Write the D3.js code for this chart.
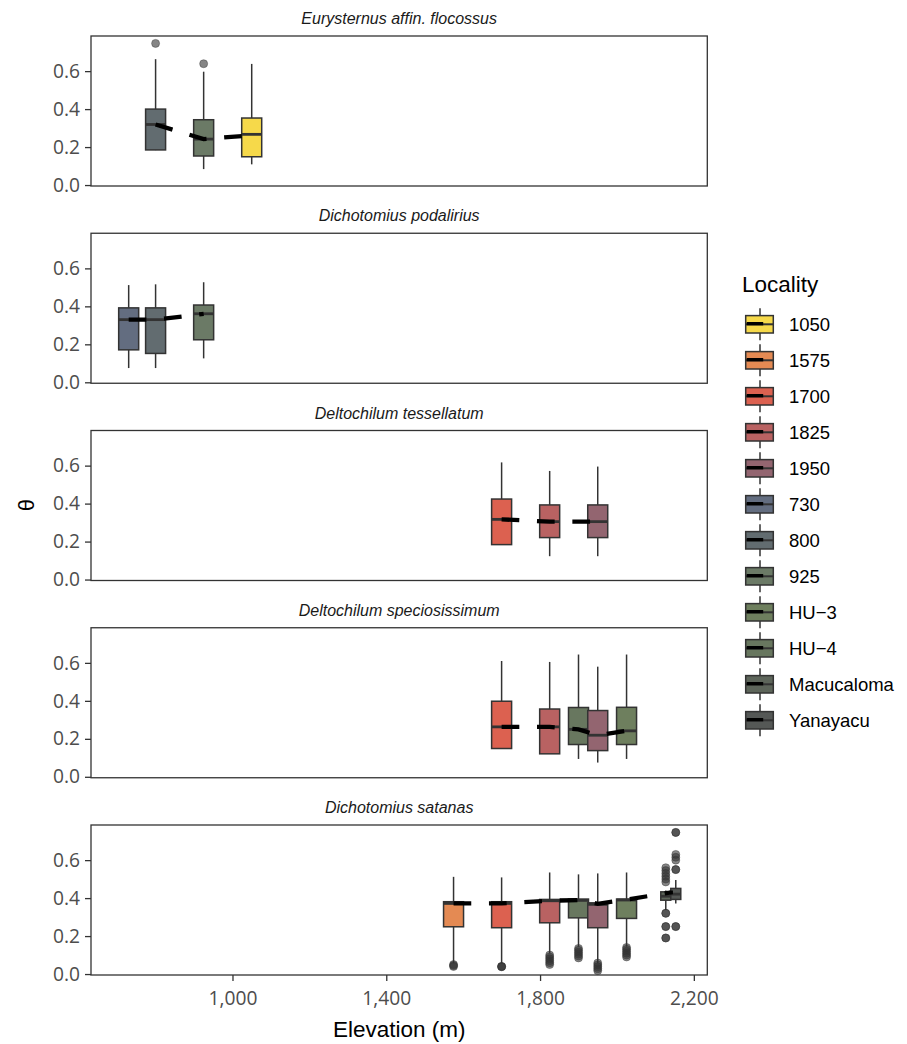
<!DOCTYPE html>
<html>
<head>
<meta charset="utf-8">
<script src="https://cdn.jsdelivr.net/npm/d3@7"></script>
<style>
  html, body { margin: 0; padding: 0; background: #ffffff; }
  svg { display: block; }
</style>
</head>
<body>
<svg id="chart" width="907" height="1044"></svg>
<script>
// ---------------- DATA ----------------
const speciesNames = [
  "Eurysternus affin. flocossus",
  "Dichotomius podalirius",
  "Deltochilum tessellatum",
  "Deltochilum speciosissimum",
  "Dichotomius satanas"
];
const localityLevels = ["1050","1575","1700","1825","1950","730","800","925","HU-3","HU-4","Macucaloma","Yanayacu"];
const localityElevation = [1050, 1575, 1700, 1825, 1950, 730, 800, 925, 2025, 1900, 2140, 2140];

// one entry per box
const boxSpecies  = [0,0,0, 1,1,1, 2,2,2, 3,3,3,3,3, 4,4,4,4,4,4,4,4];
const boxLocality = ["800","925","1050",
                     "730","800","925",
                     "1700","1825","1950",
                     "1700","1825","HU-4","1950","HU-3",
                     "1575","1700","1825","HU-4","1950","HU-3","Macucaloma","Yanayacu"];
const whiskerLow  = [0.184,0.084,0.109, 0.075,0.075,0.126, 0.182,0.123,0.123, 0.148,0.120,0.094,0.075,0.094, 0.056,0.056,0.109,0.144,0.056,0.144,0.337,0.372];
const quartile1   = [0.185,0.153,0.149, 0.171,0.152,0.224, 0.184,0.221,0.221, 0.149,0.121,0.170,0.138,0.170, 0.249,0.244,0.270,0.296,0.244,0.293,0.389,0.393];
const medianVal   = [0.319,0.242,0.267, 0.330,0.330,0.361, 0.317,0.305,0.305, 0.263,0.263,0.250,0.219,0.242, 0.372,0.372,0.386,0.388,0.367,0.390,0.410,0.421];
const quartile3   = [0.400,0.344,0.353, 0.392,0.392,0.407, 0.424,0.393,0.393, 0.398,0.357,0.365,0.349,0.366, 0.381,0.381,0.393,0.395,0.375,0.395,0.433,0.451];
const whiskerHigh = [0.663,0.597,0.638, 0.512,0.516,0.527, 0.617,0.572,0.595, 0.610,0.605,0.644,0.580,0.644, 0.512,0.509,0.535,0.525,0.530,0.535,0.440,0.495];
const trendValue  = [0.319,0.242,0.262, 0.330,0.330,0.360, 0.317,0.305,0.305, 0.263,0.263,0.250,0.219,0.242, 0.372,0.372,0.386,0.390,0.370,0.392,0.430,0.440];
const outlierVals = [
  [0.746],[0.639],[],
  [],[],[],
  [],[],[],
  [],[],[],[],[],
  [0.050,0.045,0.040],
  [0.040,0.040,0.038],
  [0.100,0.090,0.080,0.070,0.060,0.050],
  [0.135,0.125,0.115,0.105,0.095,0.085],
  [0.058,0.048,0.038,0.028,0.018],
  [0.140,0.130,0.120,0.110,0.100,0.090],
  [0.560,0.545,0.530,0.515,0.500,0.485,0.320,0.320,0.250,0.250,0.190,0.190],
  [0.746,0.746,0.630,0.615,0.600,0.550,0.550,0.250,0.250]
];
const yTickValues = [0.0, 0.2, 0.4, 0.6];
const xTickValues = [1000, 1400, 1800, 2200];

// ---------------- STYLE / LAYOUT ----------------
const palette = ["#f6d94a","#e48a53","#dc6150","#b96262","#936570","#636d80","#626c70","#6b7a66","#6e7f5e","#68775f","#5d655a","#555856"];
const fontSans = "'Liberation Sans', Arial, sans-serif";
const fontTick = "'Open Sans', 'Liberation Sans', sans-serif";
const panelLeft = 91, panelRight = 707.3, panelTop0 = 36, panelH = 150, panelStep = 197.25;
const boxWidthUnits = 52;
const inkDark = "#333333";

const svg = d3.select("#chart");
const x = d3.scaleLinear().domain([632, 2235]).range([panelLeft, panelRight]);
const colorOf = d3.scaleOrdinal().domain(localityLevels).range(palette);
const elevOf = l => localityElevation[localityLevels.indexOf(l)];

const boxes = boxSpecies.map((s, i) => ({
  s, loc: boxLocality[i], elev: elevOf(boxLocality[i]),
  lo: whiskerLow[i], q1: quartile1[i], med: medianVal[i], q3: quartile3[i], hi: whiskerHigh[i],
  trend: trendValue[i], out: outlierVals[i]
}));

// dodge boxes sharing the same elevation within a panel
d3.groups(boxes, b => b.s, b => b.elev).forEach(([, byElev]) => {
  byElev.forEach(([elev, grp]) => {
    const w = boxWidthUnits / grp.length;
    grp.forEach((b, j) => {
      b.w = w;
      b.cx = elev - boxWidthUnits / 2 + w * (j + 0.5);
    });
  });
});

speciesNames.forEach((name, si) => {
  const top = panelTop0 + si * panelStep;
  const y = d3.scaleLinear().domain([-0.005, 0.785]).range([top + panelH, top]);
  const g = svg.append("g");

  // strip title
  g.append("text")
    .attr("x", (panelLeft + panelRight) / 2).attr("y", top - 12)
    .attr("text-anchor", "middle")
    .attr("font-family", fontSans).attr("font-style", "italic")
    .attr("font-size", 16).attr("fill", "#1a1a1a")
    .text(name);

  // y axis
  const yAxis = g.append("g").attr("transform", `translate(${panelLeft},0)`)
    .call(d3.axisLeft(y).tickValues(yTickValues).tickFormat(d3.format(".1f")).tickSize(6).tickPadding(5));
  yAxis.select(".domain").remove();
  yAxis.selectAll("line").attr("stroke", inkDark).attr("stroke-width", 1.3);
  yAxis.selectAll("text").attr("font-family", fontTick).attr("font-size", 19.2).attr("fill", "#4d4d4d");

  // x axis only for last panel
  if (si === speciesNames.length - 1) {
    const xAxis = g.append("g").attr("transform", `translate(0,${top + panelH})`)
      .call(d3.axisBottom(x).tickValues(xTickValues).tickFormat(d3.format(",")).tickSize(6).tickPadding(10));
    xAxis.select(".domain").remove();
    xAxis.selectAll("line").attr("stroke", inkDark).attr("stroke-width", 1.3);
    xAxis.selectAll("text").attr("font-family", fontTick).attr("font-size", 19.2).attr("fill", "#4d4d4d");
  }

  const pb = boxes.filter(b => b.s === si).sort((a, b) => a.cx - b.cx);

  // boxes
  pb.forEach(b => {
    const bg = g.append("g");
    const cxp = x(b.cx);
    const x0 = x(b.cx - b.w / 2), x1 = x(b.cx + b.w / 2);
    bg.append("line").attr("x1", cxp).attr("x2", cxp).attr("y1", y(b.hi)).attr("y2", y(b.q3))
      .attr("stroke", inkDark).attr("stroke-width", 1.5);
    bg.append("line").attr("x1", cxp).attr("x2", cxp).attr("y1", y(b.q1)).attr("y2", y(b.lo))
      .attr("stroke", inkDark).attr("stroke-width", 1.5);
    bg.append("rect").attr("x", x0).attr("width", x1 - x0)
      .attr("y", y(b.q3)).attr("height", y(b.q1) - y(b.q3))
      .attr("fill", colorOf(b.loc)).attr("stroke", inkDark).attr("stroke-width", 1.5);
    bg.append("line").attr("x1", x0).attr("x2", x1).attr("y1", y(b.med)).attr("y2", y(b.med))
      .attr("stroke", inkDark).attr("stroke-width", 2.8);
    bg.selectAll("circle").data(b.out).join("circle")
      .attr("cx", cxp).attr("cy", d => y(d)).attr("r", 4)
      .attr("fill", inkDark).attr("fill-opacity", 0.6)
      .attr("stroke", inkDark).attr("stroke-opacity", 0.5).attr("stroke-width", 0.8);
  });

  // dashed trend line through localities
  const trendPts = pb.map(b => [x(b.elev), y(b.trend)]);
  g.append("path").attr("d", d3.line()(trendPts))
    .attr("fill", "none").attr("stroke", "#000").attr("stroke-width", 4.3)
    .attr("stroke-dasharray", "17.7,17.7").attr("stroke-linecap", "butt");

  // panel border
  g.append("rect").attr("x", panelLeft).attr("y", top)
    .attr("width", panelRight - panelLeft).attr("height", panelH)
    .attr("fill", "none").attr("stroke", inkDark).attr("stroke-width", 1.3);
});

// axis titles
svg.append("text").attr("x", (panelLeft + panelRight) / 2).attr("y", 1037)
  .attr("text-anchor", "middle").attr("font-family", fontSans).attr("font-size", 22.5).attr("fill", "#000")
  .text("Elevation (m)");
svg.append("text").attr("transform", "translate(34,505) rotate(-90)")
  .attr("text-anchor", "middle").attr("font-family", fontSans).attr("font-size", 22).attr("fill", "#000")
  .text("θ");

// legend
const lg = svg.append("g");
lg.append("text").attr("x", 742).attr("y", 292).attr("font-family", fontSans).attr("font-size", 22.5).attr("fill", "#000")
  .text("Locality");
localityLevels.forEach((l, i) => {
  const cy = 324.3 + i * 36;
  const kx = 745.7, kw = 27.6, kh = 17.4;
  lg.append("line").attr("x1", 760).attr("x2", 760).attr("y1", cy - 16).attr("y2", cy + 16)
    .attr("stroke", inkDark).attr("stroke-width", 1.5);
  lg.append("rect").attr("x", kx).attr("y", cy - kh / 2).attr("width", kw).attr("height", kh)
    .attr("fill", colorOf(l)).attr("stroke", inkDark).attr("stroke-width", 1.5);
  lg.append("line").attr("x1", kx).attr("x2", kx + kw).attr("y1", cy).attr("y2", cy)
    .attr("stroke", inkDark).attr("stroke-width", 2);
  lg.append("line").attr("x1", kx + 1).attr("x2", kx + 17.5).attr("y1", cy - 0.6).attr("y2", cy - 0.6)
    .attr("stroke", "#000").attr("stroke-width", 3.4);
  lg.append("text").attr("x", 789).attr("y", cy + 6.3).attr("font-family", fontSans).attr("font-size", 18.5).attr("fill", "#000")
    .text(l.replace("-", "\u2212"));
});
</script>
</body>
</html>
